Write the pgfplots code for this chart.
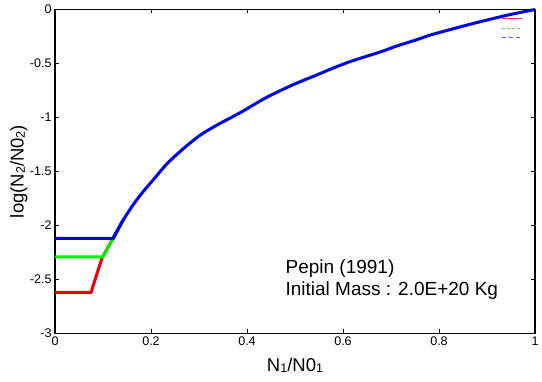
\documentclass[border=0pt]{standalone}
\usepackage{pgfplots}
\pgfplotsset{compat=1.18}
\usepackage{fontspec}
\setmainfont{Liberation Sans}
\newcommand\sub[1]{\raisebox{-1.2pt}{\fontsize{12.5pt}{12.5pt}\selectfont #1}}
\definecolor{cred}{RGB}{240,0,0}
\definecolor{cgreen}{RGB}{0,240,0}
\definecolor{cblue}{RGB}{0,0,230}
\definecolor{lred}{RGB}{235,60,90}
\definecolor{lgreen}{RGB}{90,220,90}
\definecolor{lblue}{RGB}{90,90,235}
\begin{document}
\begin{tikzpicture}
\path[use as bounding box] (-55pt,-48pt) rectangle (487pt,333.5pt);
\begin{axis}[
  scale only axis, width=480pt, height=324pt,
  xmin=0, xmax=1, ymin=-3, ymax=0,
  xtick={0,0.2,0.4,0.6,0.8,1}, ytick={-3,-2.5,-2,-1.5,-1,-0.5,0},
  xticklabels={0,0.2,0.4,0.6,0.8,1},
  yticklabels={-3,-2.5,-2,-1.5,-1,-0.5,0},
  tick align=inside, major tick length=4pt,
  tick style={black, line width=0.8pt},
  axis line style={line width=1.2pt},
  ticklabel style={font=\fontsize{12.5pt}{14pt}\selectfont},
  /pgf/number format/assume math mode=true,
  xlabel={N\sub{1}/N0\sub{1}},
  ylabel={log(N\sub{2}/N0\sub{2})},
  label style={font=\fontsize{18.5pt}{20pt}\selectfont},
  xlabel style={at={(axis description cs:0.5,0)}, anchor=north, yshift=-21pt},
  ylabel style={at={(axis description cs:0,0.5)}, anchor=south, yshift=24pt},
  legend style={at={(rel axis cs:0.985,0.995)}, anchor=north east, draw=none, fill=none,
    font=\fontsize{7pt}{7pt}\selectfont, row sep=-3pt, inner sep=1pt},
  legend cell align=left,
  legend image code/.code={\draw[#1] (0,0) -- (0.7cm,0);},
  clip=false,
]
\addlegendimage{color=lred, line width=0.9pt}
\addlegendentry{\rule{0pt}{7pt}}
\addlegendimage{color=lgreen, line width=1pt, dash pattern=on 2.5pt off 2.5pt}
\addlegendentry{\rule{0pt}{7pt}}
\addlegendimage{color=lblue, line width=1pt, dash pattern=on 4pt off 3pt}
\addlegendentry{\rule{0pt}{7pt}}
\addplot[cred, line width=3pt, forget plot] coordinates {
(0,-2.62) (0.075,-2.62) (0.098,-2.30) (0.121,-2.12) (0.132,-2.03) (0.142,-1.95)
};
\addplot[cgreen, line width=3pt, forget plot] coordinates {
(0,-2.29) (0.100,-2.29) (0.121,-2.12) (0.132,-2.03) (0.142,-1.95)
};
\addplot[cblue, line width=3pt, forget plot] coordinates {
(0,-2.12) (0.121,-2.12) (0.132,-2.03)
};
\addplot[cblue, line width=3pt, smooth, tension=0.5, forget plot] coordinates {
(0.121,-2.12) (0.132,-2.03) (0.142,-1.95) (0.1625,-1.81) (0.183,-1.69) (0.208,-1.56)
(0.233,-1.43) (0.267,-1.29) (0.302,-1.165) (0.3375,-1.07) (0.365,-1.005) (0.392,-0.94)
(0.434,-0.83) (0.47,-0.75) (0.503,-0.683) (0.546,-0.605) (0.573,-0.554) (0.61,-0.49)
(0.642,-0.443) (0.68,-0.39) (0.712,-0.338) (0.75,-0.285) (0.781,-0.238) (0.82,-0.19)
(0.871,-0.13) (0.94,-0.055) (1.0,0)
};
\node[anchor=west, align=left, font=\fontsize{19pt}{22pt}\selectfont, inner sep=0pt]
  at (axis cs:0.48,-2.50) {Pepin (1991)\\Initial Mass : 2.0E+20 Kg};
\end{axis}
\end{tikzpicture}
\end{document}
